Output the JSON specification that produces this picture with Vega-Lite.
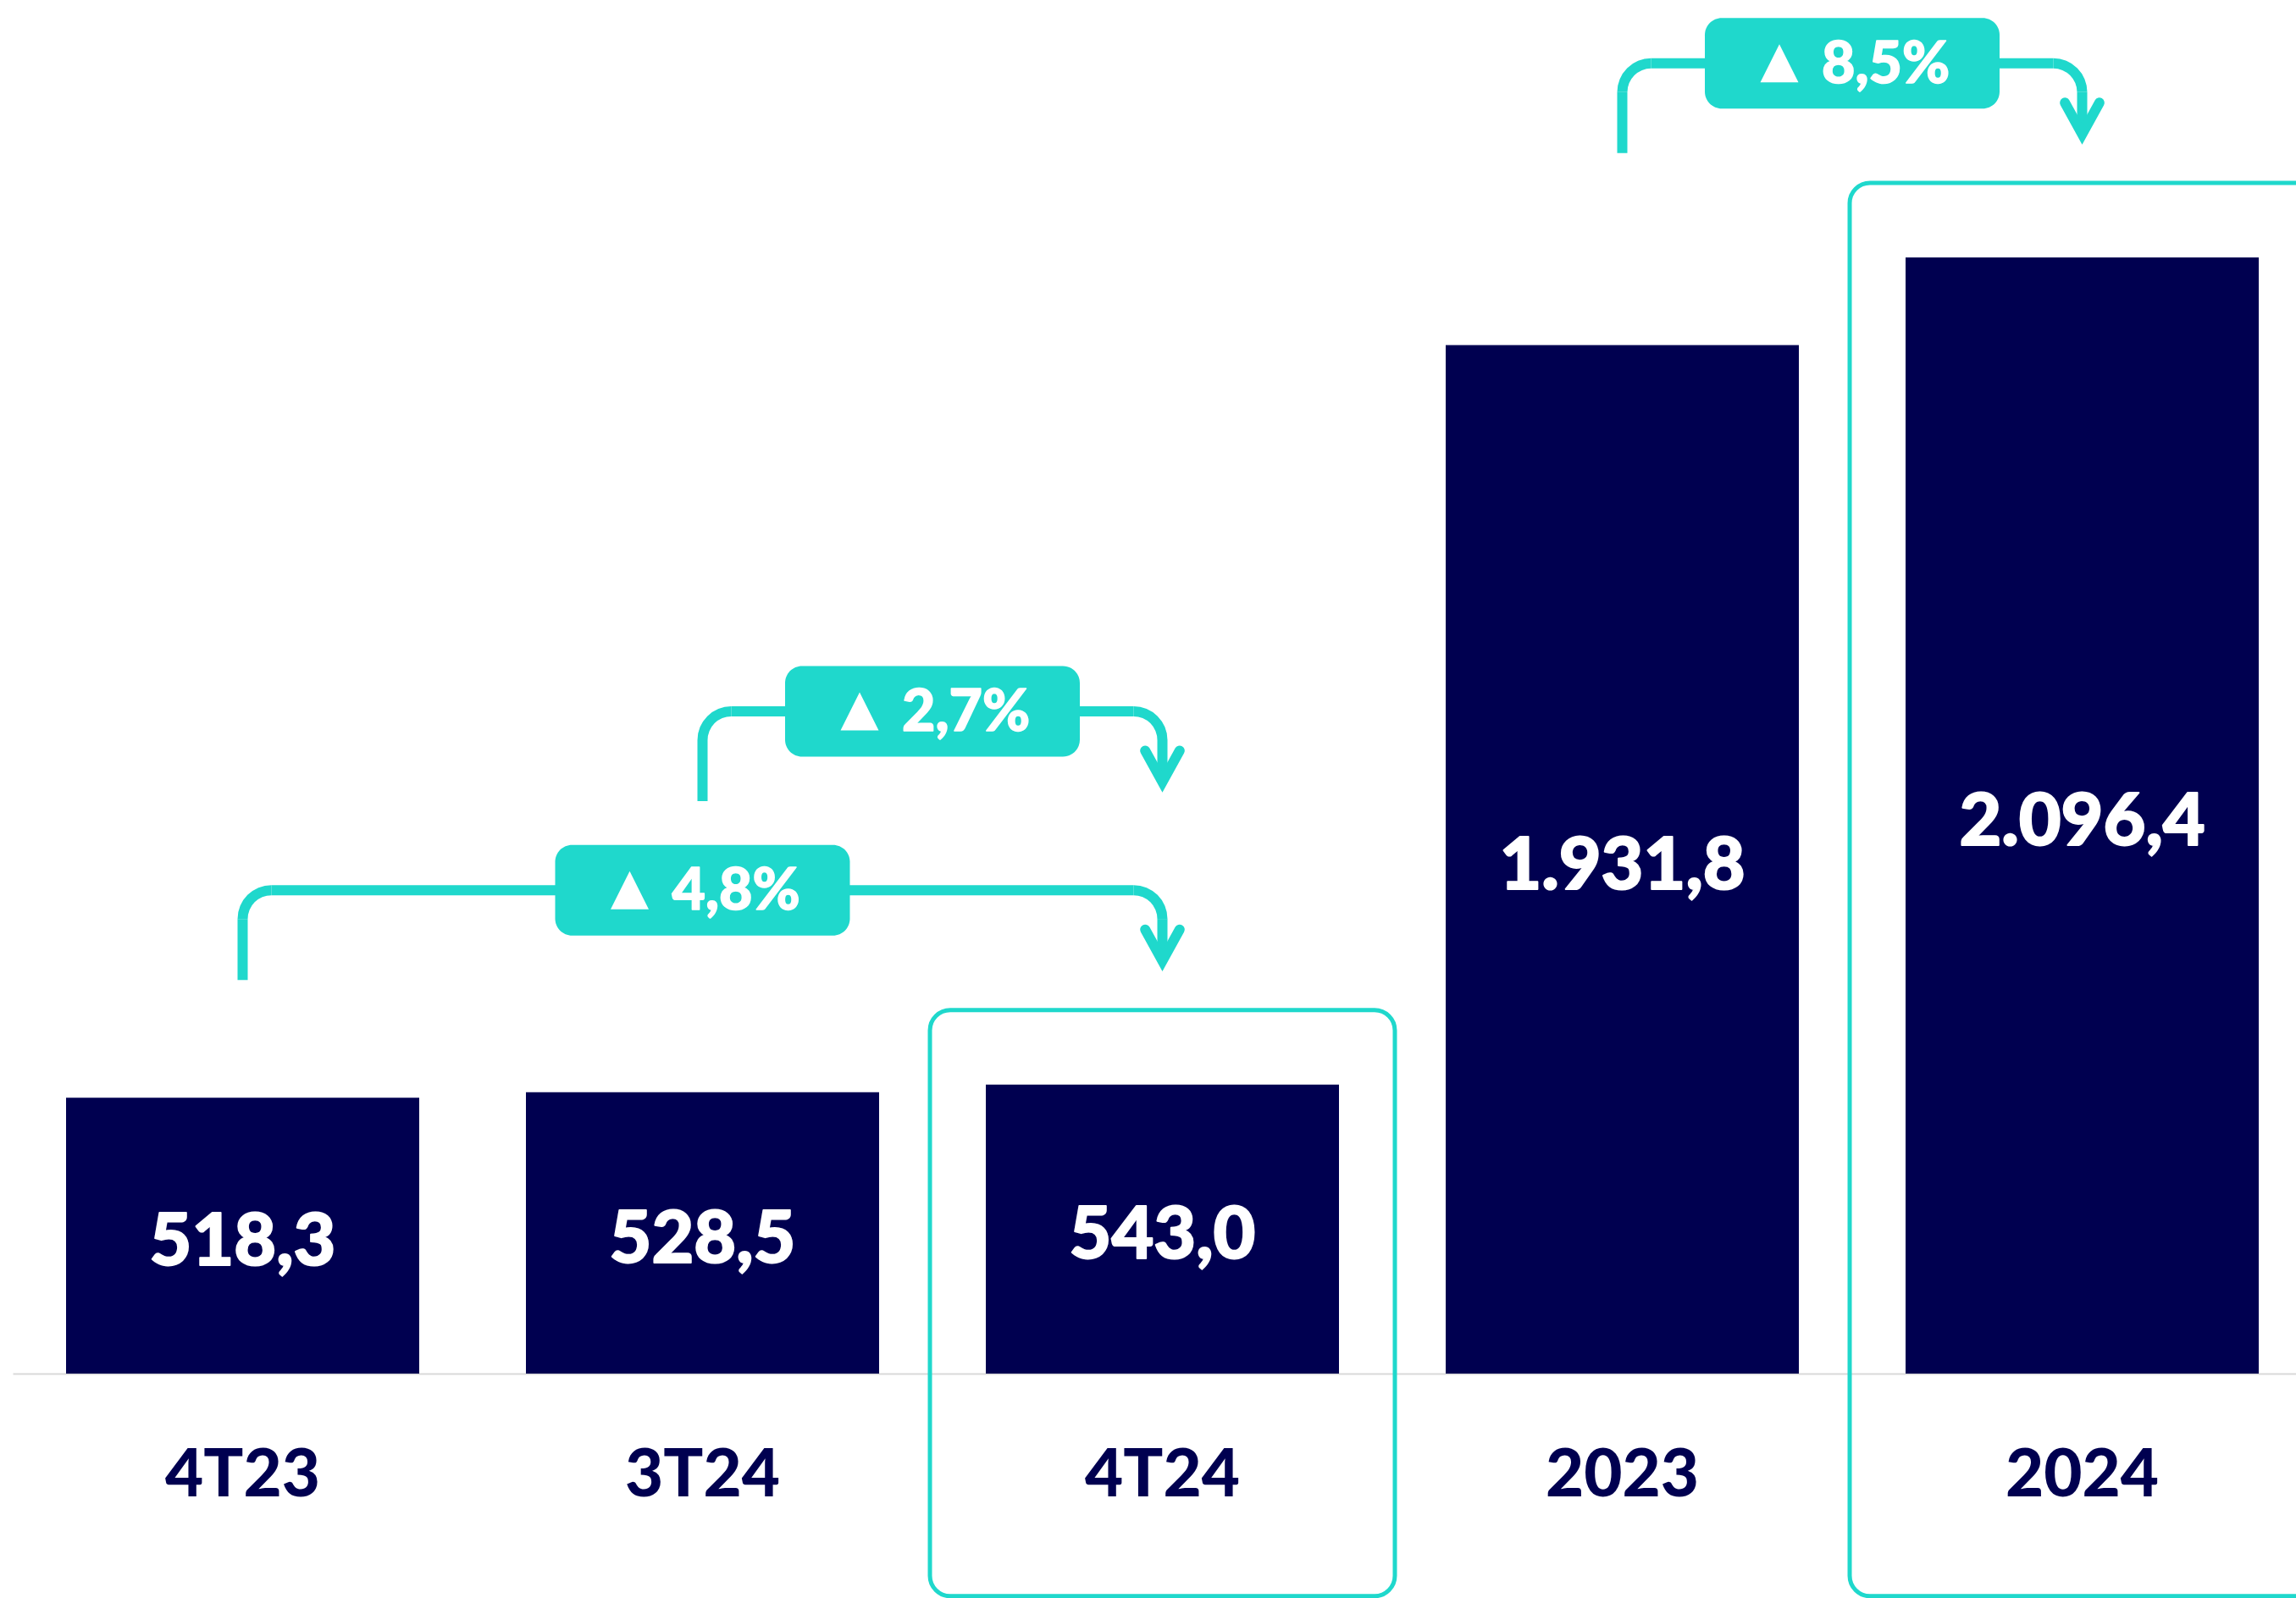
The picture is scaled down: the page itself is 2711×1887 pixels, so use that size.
{
  "$schema": "https://vega.github.io/schema/vega-lite/v6.json",
  "width": 2696,
  "height": 1622,
  "autosize": {"type": "none"},
  "padding": {"left": 15, "top": 0, "right": 0, "bottom": 265},
  "background": "white",
  "config": {
    "view": {"stroke": null},
    "locale": {"number": {"decimal": ",", "thousands": ".", "grouping": [3], "currency": ["", " €"], "percent": "%"}}
  },
  "datasets": {
    "bars": [
      {"period": "4T23", "value": 518.3, "highlight": false},
      {"period": "3T24", "value": 528.5, "highlight": false},
      {"period": "4T24", "value": 543.0, "highlight": true},
      {"period": "2023", "value": 1931.8, "highlight": false},
      {"period": "2024", "value": 2096.4, "highlight": true}
    ],
    "changes": [
      {"from": "4T23", "to": "4T24", "pct": 0.048, "level": 908},
      {"from": "3T24", "to": "4T24", "pct": 0.027, "level": 1244},
      {"from": "2023", "to": "2024", "pct": 0.085, "level": 2461}
    ]
  },
  "resolve": {"scale": {"x": "independent"}},
  "layer": [
    {
      "data": {"name": "bars"},
      "encoding": {
        "x": {"field": "period", "type": "nominal", "sort": null,
          "scale": {"domain": ["4T23", "3T24", "4T24", "2023", "2024"], "paddingInner": 0.23204, "paddingOuter": 0.098525, "align": 0.5888},
          "axis": {"title": null, "labelAngle": 0, "labelLimit": 0, "ticks": false, "tickSize": 0, "labelPadding": 82, "labelFont": "Lato", "labelFontSize": 78, "labelFontWeight": 900, "labelColor": "#000050", "domainColor": "#d9d9d9", "domainWidth": 2, "grid": false,
            "encode": {"labels": {"update": {"stroke": {"value": "#000050"}, "strokeWidth": {"value": 2}, "strokeJoin": {"value": "round"}}}}}}
      },
      "layer": [
        {
          "transform": [{"filter": "datum.highlight"}],
          "mark": {"type": "bar", "width": {"band": 1.3165}, "cornerRadius": 24, "fill": "transparent", "stroke": "#1FD8CC", "strokeWidth": 5, "yOffset": -88},
          "encoding": {
            "y": {"field": "value", "type": "quantitative", "scale": {"domain": [0, 2580]}, "axis": null},
            "y2": {"datum": -418}
          }
        },
        {
          "mark": {"type": "bar", "color": "#000050"},
          "encoding": {
            "y": {"field": "value", "type": "quantitative", "scale": {"domain": [0, 2580]}, "axis": null}
          }
        },
        {
          "transform": [{"calculate": "datum.value / 2", "as": "mid"}],
          "mark": {"type": "text", "color": "white", "stroke": "white", "strokeWidth": 2, "strokeJoin": "round", "font": "Lato", "fontSize": 86, "fontWeight": 900, "align": "center", "baseline": "middle", "yOffset": 9},
          "encoding": {
            "y": {"field": "mid", "type": "quantitative", "scale": {"domain": [0, 2580]}, "axis": null},
            "text": {"field": "value", "type": "quantitative", "format": ",.1f"}
          }
        }
      ]
    },
    {
      "data": {"name": "changes"},
      "transform": [
        {"calculate": "indexof(['4T23','3T24','4T24','2023','2024'], datum.from)", "as": "fromIdx"},
        {"calculate": "indexof(['4T23','3T24','4T24','2023','2024'], datum.to)", "as": "toIdx"},
        {"calculate": "(datum.fromIdx + datum.toIdx) / 2", "as": "midIdx"}
      ],
      "encoding": {
        "y": {"field": "level", "type": "quantitative", "scale": {"domain": [0, 2580]}, "axis": null}
      },
      "layer": [
        {
          "mark": {"type": "rule", "color": "#1FD8CC", "strokeWidth": 12, "xOffset": 34, "x2Offset": -34},
          "encoding": {
            "x": {"field": "fromIdx", "type": "quantitative", "scale": {"domain": [-0.5, 4.46501]}, "axis": null},
            "x2": {"field": "toIdx"}
          }
        },
        {
          "mark": {"type": "rule", "color": "#1FD8CC", "strokeWidth": 12, "yOffset": 34, "y2Offset": 106},
          "encoding": {
            "x": {"field": "fromIdx", "type": "quantitative", "scale": {"domain": [-0.5, 4.46501]}, "axis": null},
            "y2": {"field": "level"}
          }
        },
        {
          "mark": {"type": "rule", "color": "#1FD8CC", "strokeWidth": 12, "yOffset": 34, "y2Offset": 76},
          "encoding": {
            "x": {"field": "toIdx", "type": "quantitative", "scale": {"domain": [-0.5, 4.46501]}, "axis": null},
            "y2": {"field": "level"}
          }
        },
        {
          "mark": {"type": "arc", "color": "#1FD8CC", "radius": 40, "radius2": 28, "theta": 4.712389, "theta2": 6.283185, "xOffset": 34, "yOffset": 34},
          "encoding": {
            "x": {"field": "fromIdx", "type": "quantitative", "scale": {"domain": [-0.5, 4.46501]}, "axis": null}
          }
        },
        {
          "mark": {"type": "arc", "color": "#1FD8CC", "radius": 40, "radius2": 28, "theta": 0, "theta2": 1.570796, "xOffset": -34, "yOffset": 34},
          "encoding": {
            "x": {"field": "toIdx", "type": "quantitative", "scale": {"domain": [-0.5, 4.46501]}, "axis": null}
          }
        },
        {
          "mark": {"type": "point", "shape": "M-1.1,-1L0,1L1.1,-1", "size": 1369, "filled": false, "stroke": "#1FD8CC", "strokeWidth": 12, "strokeCap": "round", "strokeJoin": "miter", "opacity": 1, "yOffset": 65},
          "encoding": {
            "x": {"field": "toIdx", "type": "quantitative", "scale": {"domain": [-0.5, 4.46501]}, "axis": null}
          }
        },
        {
          "mark": {"type": "rect", "color": "#1FD8CC", "width": 348, "height": 107, "cornerRadius": 20},
          "encoding": {
            "x": {"field": "midIdx", "type": "quantitative", "scale": {"domain": [-0.5, 4.46501]}, "axis": null}
          }
        },
        {
          "mark": {"type": "point", "shape": "M0,-1L1,1L-1,1Z", "size": 2025, "filled": true, "color": "white", "opacity": 1, "strokeWidth": 0, "xOffset": -86},
          "encoding": {
            "x": {"field": "midIdx", "type": "quantitative", "scale": {"domain": [-0.5, 4.46501]}, "axis": null}
          }
        },
        {
          "mark": {"type": "text", "color": "white", "stroke": "white", "strokeWidth": 1.5, "strokeJoin": "round", "font": "Lato", "fontSize": 68, "fontWeight": 900, "align": "left", "baseline": "middle", "xOffset": -36, "yOffset": 3},
          "encoding": {
            "x": {"field": "midIdx", "type": "quantitative", "scale": {"domain": [-0.5, 4.46501]}, "axis": null},
            "text": {"field": "pct", "type": "quantitative", "format": ".1%"}
          }
        }
      ]
    }
  ]
}
